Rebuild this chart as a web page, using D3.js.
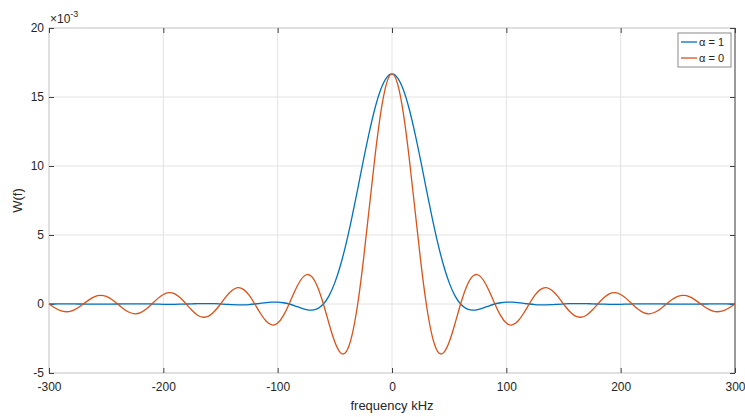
<!DOCTYPE html>
<meta charset="utf-8">
<style>
body { margin: 0; background: #fff; }
svg { font-family: "Liberation Sans", Arial, sans-serif; }
.tick text { fill: #262626; font-size: 12px; }
.grid line { stroke: #e3e3e3; }
</style>
<script src="https://d3js.org/d3.v7.min.js"></script>
<body>
<script>
// frequency grid (kHz)
var freq = [-300,-295,-290,-285,-280,-275,-270,-265,-260,-255,-250,-245,-240,-235,-230,-225,-220,-215,-210,-205,
  -200,-195,-190,-185,-180,-175,-170,-165,-160,-155,-150,-145,-140,-135,-130,-125,-120,-115,-110,-105,
  -100,-95,-90,-85,-80,-75,-70,-65,-60,-55,-50,-45,-40,-35,-30,-25,-20,-15,-10,-5,
  0,5,10,15,20,25,30,35,40,45,50,55,60,65,70,75,80,85,90,95,
  100,105,110,115,120,125,130,135,140,145,150,155,160,165,170,175,180,185,190,195,
  200,205,210,215,220,225,230,235,240,245,250,255,260,265,270,275,280,285,290,295,300];

// W(f) for alpha = 1, x10^-3
var alpha1 = [0,0,0.01,0.01,0.01,0,0,-0.01,-0.01,-0.01,-0.01,-0.01,0,0.01,0.01,0.01,0.01,0.01,0,-0.01,
  -0.02,-0.02,-0.02,-0.01,0,0.01,0.03,0.03,0.03,0.02,0,-0.02,-0.05,-0.06,-0.06,-0.04,0,0.05,0.10,0.13,
  0.14,0.09,0,-0.13,-0.28,-0.40,-0.44,-0.33,0,0.61,1.55,2.83,4.43,6.30,8.33,10.42,12.40,14.15,15.51,16.37,
  16.67,16.37,15.51,14.15,12.40,10.42,8.33,6.30,4.43,2.83,1.55,0.61,0,-0.33,-0.44,-0.40,-0.28,-0.13,0,0.09,
  0.14,0.13,0.10,0.05,0,-0.04,-0.06,-0.06,-0.05,-0.02,0,0.02,0.03,0.03,0.03,0.01,0,-0.01,-0.02,-0.02,
  -0.02,-0.01,0,0.01,0.01,0.01,0.01,0.01,0,-0.01,-0.01,-0.01,-0.01,-0.01,0,0,0.01,0.01,0.01,0,0];

// W(f) for alpha = 0, x10^-3
var alpha0 = [0,-0.27,-0.48,-0.56,-0.49,-0.29,0,0.30,0.53,0.62,0.55,0.32,0,-0.34,-0.60,-0.71,-0.63,-0.37,0,0.39,
  0.69,0.82,0.73,0.43,0,-0.45,-0.81,-0.96,-0.86,-0.51,0,0.55,0.98,1.18,1.06,0.64,0,-0.69,-1.25,-1.52,
  -1.38,-0.84,0,0.94,1.72,2.12,1.97,1.22,0,-1.45,-2.76,-3.54,-3.45,-2.27,0,3.18,6.89,10.61,13.78,15.92,
  16.67,15.92,13.78,10.61,6.89,3.18,0,-2.27,-3.45,-3.54,-2.76,-1.45,0,1.22,1.97,2.12,1.72,0.94,0,-0.84,
  -1.38,-1.52,-1.25,-0.69,0,0.64,1.06,1.18,0.98,0.55,0,-0.51,-0.86,-0.96,-0.81,-0.45,0,0.43,0.73,0.82,
  0.69,0.39,0,-0.37,-0.63,-0.71,-0.60,-0.34,0,0.32,0.55,0.62,0.53,0.30,0,-0.29,-0.49,-0.56,-0.48,-0.27,0];

var xTicks = [-300,-200,-100,0,100,200,300];
var yTicks = [-5,0,5,10,15,20];
var seriesNames = ["\u03b1 = 1", "\u03b1 = 0"];
var colors = ["#0072BD", "#D95319"];

var margin = {top: 28, right: 10, bottom: 44, left: 49},
    width = 745 - margin.left - margin.right,
    height = 417 - margin.top - margin.bottom;

var svg = d3.select("body").append("svg")
    .attr("width", 745)
    .attr("height", 417);
var g = svg.append("g")
    .attr("transform", "translate(" + margin.left + "," + margin.top + ")");

var x = d3.scaleLinear().domain([-300, 300]).range([0, width]);
var y = d3.scaleLinear().domain([-5, 20]).range([height, 0]);

// grid
g.append("g").attr("class", "grid")
  .selectAll("line").data(xTicks).enter().append("line")
    .attr("x1", d => x(d)).attr("x2", d => x(d))
    .attr("y1", 0).attr("y2", height);
g.append("g").attr("class", "grid")
  .selectAll("line").data(yTicks).enter().append("line")
    .attr("x1", 0).attr("x2", width)
    .attr("y1", d => y(d)).attr("y2", d => y(d));

// frame
g.append("rect").attr("width", width).attr("height", height)
    .attr("fill", "none").attr("stroke", "#cfcfcf");
g.append("line").attr("x1", width).attr("x2", width).attr("y1", 0).attr("y2", height)
    .attr("stroke", "#555");

// axes, ticks pointing inward, plain hyphen minus like the original
var plain = d => String(d);
g.append("g").attr("transform", "translate(0," + height + ")")
    .call(d3.axisBottom(x).tickValues(xTicks).tickFormat(plain).tickSizeInner(-5).tickSizeOuter(0).tickPadding(9));
g.append("g")
    .call(d3.axisLeft(y).tickValues(yTicks).tickFormat(plain).tickSizeInner(-5).tickSizeOuter(0).tickPadding(5));
g.append("g").call(d3.axisTop(x).tickValues(xTicks).tickSizeInner(-5).tickSizeOuter(0).tickFormat(""));
g.append("g").attr("transform", "translate(" + width + ",0)")
    .call(d3.axisRight(y).tickValues(yTicks).tickSizeInner(-5).tickSizeOuter(0).tickFormat(""));
g.selectAll(".domain").remove();
g.selectAll(".tick line").attr("stroke", "#404040");

// curves
var line = d3.line()
    .x((d, i) => x(freq[i]))
    .y(d => y(d))
    .curve(d3.curveNatural);

[alpha1, alpha0].forEach(function(vals, k) {
  g.append("path")
    .datum(vals)
    .attr("fill", "none")
    .attr("stroke", colors[k])
    .attr("stroke-width", 1.3)
    .attr("d", line);
});

// exponent label
var ex = svg.append("text").attr("x", 50).attr("y", 23)
    .attr("fill", "#262626").style("font-size", "12px");
ex.append("tspan").text("\u00d710");
ex.append("tspan").attr("dy", -6).style("font-size", "9px").text("-3");

// axis labels
svg.append("text")
    .attr("x", margin.left + width / 2).attr("y", 410)
    .attr("text-anchor", "middle").attr("fill", "#262626")
    .style("font-size", "13px").text("frequency kHz");
svg.append("text")
    .attr("transform", "translate(22," + (margin.top + height / 2) + ") rotate(-90)")
    .attr("text-anchor", "middle").attr("fill", "#262626")
    .style("font-size", "13px").text("W(f)");

// legend
var lg = svg.append("g").attr("transform", "translate(678,33)");
lg.append("rect").attr("width", 53).attr("height", 34)
    .attr("fill", "#fff").attr("stroke", "#8a8a8a");
seriesNames.forEach(function(name, i) {
  lg.append("line")
    .attr("x1", 3).attr("x2", 19)
    .attr("y1", 9 + i * 16).attr("y2", 9 + i * 16)
    .attr("stroke", colors[i]).attr("stroke-width", 1.3);
  lg.append("text")
    .attr("x", 21).attr("y", 13 + i * 16)
    .attr("fill", "#262626").style("font-size", "11px")
    .text(name);
});
</script>
